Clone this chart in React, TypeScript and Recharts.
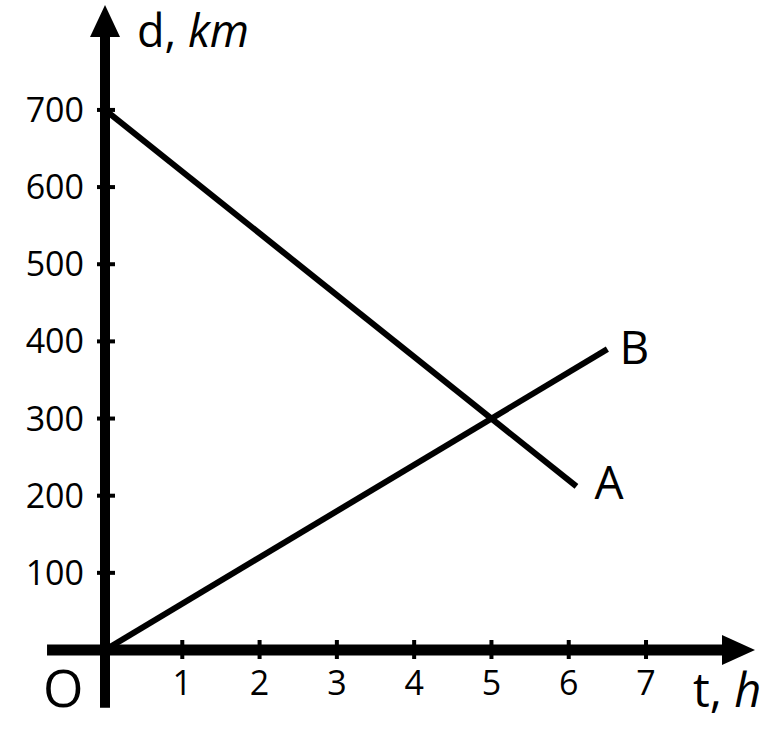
import { LineChart, Line, XAxis, YAxis, ReferenceLine, ReferenceDot } from 'recharts';

// hours on the t axis, km on the d axis
const timeA = [0, 6.1];
const distA = [700, 212];
const timeB = [0, 6.5];
const distB = [0, 390];

const xTicks = [1, 2, 3, 4, 5, 6, 7];
const yTicks = [100, 200, 300, 400, 500, 600, 700];

const seriesA = timeA.map((t, i) => ({ t, d: distA[i] }));
const seriesB = timeB.map((t, i) => ({ t, d: distB[i] }));

const FONT = '"Open Sans", sans-serif';

function XTick(props: any) {
  const { x, y, payload } = props;
  return (
    <g>
      <rect x={x - 2} y={y - 10} width={4} height={19} fill="#000" />
      <text x={x} y={y + 45} textAnchor="middle" fontSize={34} fontFamily={FONT} fill="#000">
        {payload.value}
      </text>
    </g>
  );
}

function YTick(props: any) {
  const { x, y, payload } = props;
  return (
    <g>
      <rect x={x - 8} y={y - 2} width={18} height={4} fill="#000" />
      <text x={x - 21} y={y + 12} textAnchor="end" fontSize={34} fontFamily={FONT} fill="#000">
        {payload.value}
      </text>
    </g>
  );
}

const endLabel = (name: string, last: number, dx: number, dy: number) => (props: any) => {
  if (props.index !== last) return null;
  return (
    <text x={props.x + dx} y={props.y + dy} fontSize={46} fontFamily={FONT} fill="#000">
      {name}
    </text>
  );
};

const upArrow = (p: any) => (
  <polygon points={`${p.cx},${p.cy} ${p.cx - 15},${p.cy + 32} ${p.cx + 15},${p.cy + 32}`} fill="#000" />
);
const rightArrow = (p: any) => (
  <polygon points={`${p.cx},${p.cy} ${p.cx - 33},${p.cy - 15} ${p.cx - 33},${p.cy + 15}`} fill="#000" />
);

export default function App() {
  return (
    <div style={{ position: 'absolute', left: 0, top: 0, background: '#fff' }}>
      <LineChart width={771} height={731} margin={{ top: 5, right: 16, bottom: 80, left: 104 }}>
        <XAxis
          type="number"
          dataKey="t"
          domain={[0, 8.41]}
          ticks={xTicks}
          interval={0}
          allowDataOverflow
          height={1}
          axisLine={false}
          tickLine={false}
          tickSize={0}
          tickMargin={0}
          tick={<XTick />}
          label={{
            content: () => (
              <g fontFamily={FONT} fill="#000">
                <text x={43} y={707} fontSize={52}>O</text>
                <text x={693} y={707} fontSize={47}>
                  t, <tspan fontStyle="italic">h</tspan>
                </text>
              </g>
            ),
          }}
        />
        <YAxis
          type="number"
          dataKey="d"
          domain={[0, 836]}
          ticks={yTicks}
          interval={0}
          allowDataOverflow
          width={1}
          axisLine={false}
          tickLine={false}
          tickSize={0}
          tickMargin={0}
          tick={<YTick />}
          label={{
            content: () => (
              <text x={137} y={47} fontSize={45} fontFamily={FONT} fill="#000">
                d, <tspan fontStyle="italic">km</tspan>
              </text>
            ),
          }}
        />
        <ReferenceLine
          segment={[{ x: -0.75, y: 0 }, { x: 8.2, y: 0 }]}
          stroke="#000"
          strokeWidth={11}
          ifOverflow="visible"
        />
        <ReferenceLine
          segment={[{ x: 0, y: -75 }, { x: 0, y: 815 }]}
          stroke="#000"
          strokeWidth={10}
          ifOverflow="visible"
        />
        <ReferenceDot x={0} y={836} r={1} shape={upArrow} ifOverflow="visible" />
        <ReferenceDot x={8.41} y={0} r={1} shape={rightArrow} ifOverflow="visible" />
        <Line
          data={seriesA}
          dataKey="d"
          stroke="#000"
          strokeWidth={6}
          dot={false}
          activeDot={false}
          isAnimationActive={false}
          label={endLabel('A', seriesA.length - 1, 18, 13)}
        />
        <Line
          data={seriesB}
          dataKey="d"
          stroke="#000"
          strokeWidth={6}
          dot={false}
          activeDot={false}
          isAnimationActive={false}
          label={endLabel('B', seriesB.length - 1, 12, 15)}
        />
      </LineChart>
    </div>
  );
}
